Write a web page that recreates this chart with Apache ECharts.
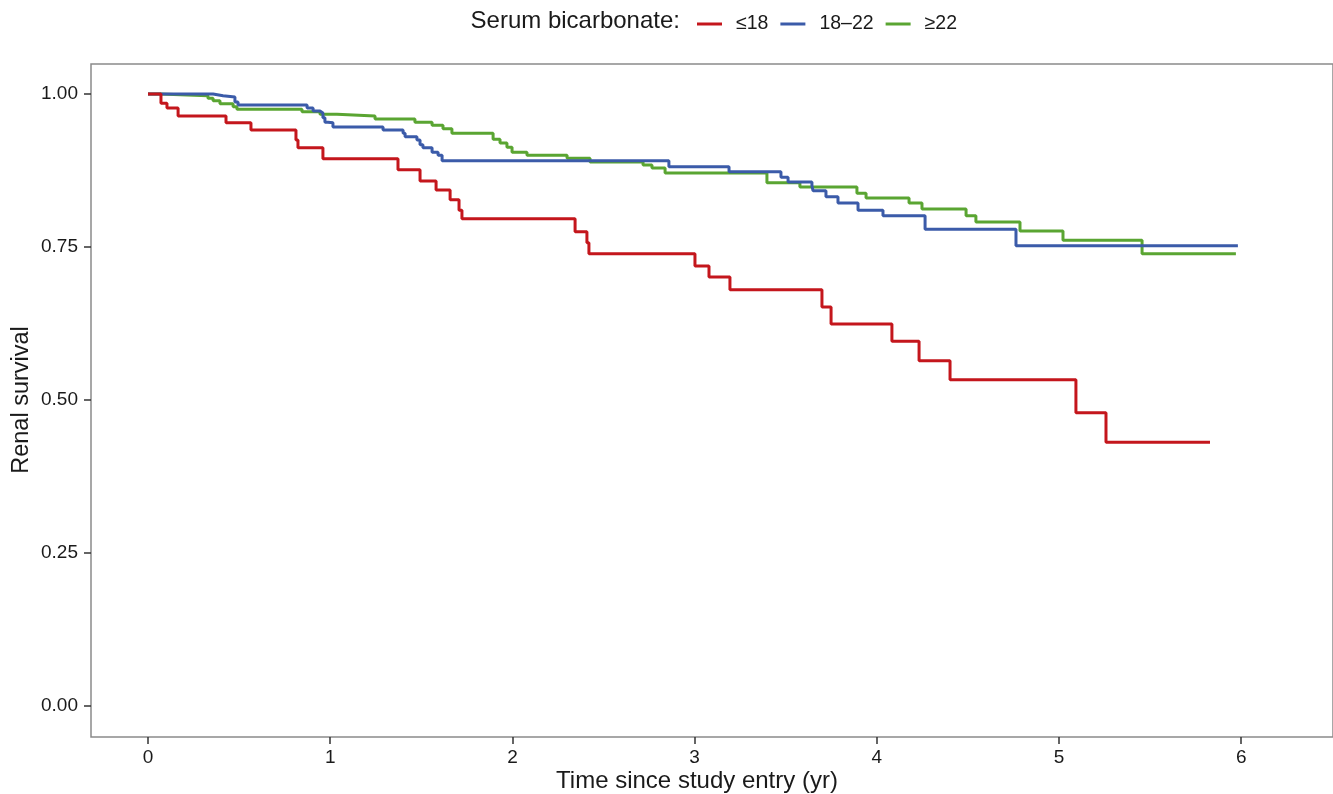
<!DOCTYPE html>
<html><head><meta charset="utf-8">
<script src="https://cdn.jsdelivr.net/npm/echarts@6/dist/echarts.min.js"></script>
<style>html,body{margin:0;padding:0;background:#fff}#c{width:1333px;height:794px}</style>
</head><body><div id="c"></div>
<script>
const groupNames = ['≤18', '18–22', '≥22'];
const xTicks = [0, 1, 2, 3, 4, 5, 6];
const yTicks = [0, 0.25, 0.5, 0.75, 1];

const lowTime = [0, 0.071, 0.104, 0.165, 0.428, 0.565, 0.812, 0.823, 0.960, 1.372, 1.493, 1.581, 1.658, 1.707, 1.723, 2.344, 2.409, 2.420, 3.002, 3.079, 3.194, 3.699, 3.749, 4.083, 4.232, 4.402, 5.093, 5.258, 5.829];
const lowSurv = [1.000, 0.985, 0.977, 0.964, 0.953, 0.941, 0.925, 0.912, 0.894, 0.876, 0.858, 0.843, 0.827, 0.810, 0.796, 0.775, 0.757, 0.739, 0.719, 0.701, 0.680, 0.652, 0.624, 0.596, 0.564, 0.533, 0.479, 0.431, 0.431];

const midTime = [0, 0.357, 0.412, 0.477, 0.494, 0.873, 0.906, 0.944, 0.960, 0.971, 0.988, 1.015, 1.290, 1.400, 1.411, 1.476, 1.493, 1.509, 1.559, 1.592, 1.614, 2.859, 3.189, 3.474, 3.513, 3.644, 3.650, 3.721, 3.787, 3.897, 4.034, 4.265, 4.764, 5.982];
const midSurv = [1.000, 0.997, 0.995, 0.987, 0.982, 0.977, 0.972, 0.969, 0.961, 0.954, 0.953, 0.946, 0.941, 0.936, 0.930, 0.925, 0.917, 0.912, 0.905, 0.900, 0.891, 0.881, 0.873, 0.864, 0.856, 0.850, 0.842, 0.832, 0.822, 0.810, 0.801, 0.779, 0.752, 0.752];

const highTime = [0, 0.066, 0.329, 0.357, 0.395, 0.467, 0.488, 0.845, 0.944, 1.037, 1.246, 1.465, 1.559, 1.619, 1.668, 1.894, 1.932, 1.970, 1.998, 2.080, 2.300, 2.426, 2.717, 2.766, 2.838, 3.397, 3.578, 3.891, 3.941, 4.177, 4.248, 4.490, 4.544, 4.786, 5.022, 5.456, 5.971];
const highSurv = [1.000, 0.997, 0.993, 0.989, 0.984, 0.979, 0.975, 0.971, 0.967, 0.964, 0.959, 0.954, 0.949, 0.943, 0.936, 0.926, 0.920, 0.913, 0.905, 0.900, 0.895, 0.889, 0.884, 0.879, 0.871, 0.855, 0.848, 0.838, 0.830, 0.822, 0.812, 0.801, 0.791, 0.776, 0.761, 0.739, 0.739];

const colors = ['#c4161c', '#3b5ba9', '#5aa532'];
const FONT = '"Liberation Sans", Arial, Helvetica, sans-serif';

function pairs(t, s) { return t.map((v, i) => [v, s[i]]); }
const allData = [pairs(lowTime, lowSurv), pairs(midTime, midSurv), pairs(highTime, highSurv)];

const chart = echarts.init(document.getElementById('c'), null, {renderer: 'canvas'});
chart.setOption({
  animation: false,
  backgroundColor: '#fff',
  textStyle: {fontFamily: FONT},
  grid: {left: 91, top: 64, right: 0, bottom: 57, show: true, borderColor: '#8a8a8a', borderWidth: 1.5, backgroundColor: 'transparent'},
  legend: {
    left: 697, top: 14, padding: 0, itemWidth: 25, itemHeight: 3, itemGap: 12, icon: 'rect',
    data: groupNames,
    textStyle: {fontSize: 19.5, color: '#1a1a1a', fontFamily: FONT, padding: [0, 0, 0, 9]}
  },
  graphic: [
    {type: 'text', x: 680, y: 21, style: {text: 'Serum bicarbonate:', fontSize: 24, fontFamily: FONT, fill: '#1a1a1a', align: 'right', verticalAlign: 'middle'}},
    {type: 'text', x: 697, y: 781, style: {text: 'Time since study entry (yr)', fontSize: 24, fontFamily: FONT, fill: '#1a1a1a', align: 'center', verticalAlign: 'middle'}},
    {type: 'text', x: 22, y: 400, rotation: Math.PI / 2, style: {text: 'Renal survival', fontSize: 23.5, fontFamily: FONT, fill: '#1a1a1a', align: 'center', verticalAlign: 'middle'}}
  ],
  xAxis: {
    type: 'value', min: -0.313, max: 6.504,
    axisLine: {show: false, onZero: false},
    splitLine: {show: false},
    axisTick: {show: true, customValues: xTicks, length: 7, lineStyle: {color: '#333', width: 1.5}},
    axisLabel: {customValues: xTicks, fontSize: 19, color: '#1a1a1a', margin: 11, fontFamily: FONT}
  },
  yAxis: {
    type: 'value', min: -0.0507, max: 1.049,
    axisLine: {show: false, onZero: false},
    splitLine: {show: false},
    axisTick: {show: true, customValues: yTicks, length: 7, lineStyle: {color: '#333', width: 1.5}},
    axisLabel: {customValues: yTicks, fontSize: 19, color: '#1a1a1a', margin: 13, fontFamily: FONT, formatter: v => v.toFixed(2)}
  },
  series: groupNames.map((n, i) => ({
    name: n, type: 'line', step: 'end', showSymbol: false, symbol: 'none',
    data: allData[i], color: colors[i],
    lineStyle: {width: 3, color: colors[i]}, itemStyle: {color: colors[i]}, z: 3 - i
  }))
});
</script>
</body></html>
